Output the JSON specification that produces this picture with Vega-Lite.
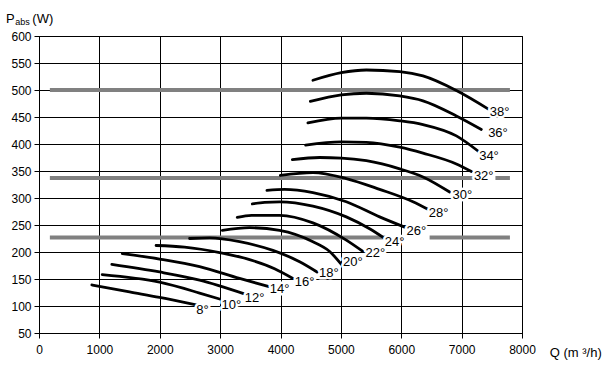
{
  "$schema": "https://vega.github.io/schema/vega-lite/v6.json",
  "width": 483,
  "height": 297,
  "autosize": "none",
  "padding": {"left": 39, "top": 36, "right": 88, "bottom": 32},
  "background": "white",
  "config": {
    "view": {"stroke": "black", "strokeWidth": 1},
    "font": "Liberation Sans, Arial, sans-serif",
    "axis": {
      "grid": true, "gridColor": "black", "gridOpacity": 1, "gridWidth": 1,
      "domainColor": "black", "tickColor": "black", "labelColor": "black",
      "labelFontSize": 12, "labelFont": "Liberation Sans, Arial, sans-serif",
      "tickSize": 5, "labelPadding": 3, "labelOverlap": false, "labelFlush": false, "labelBound": false
    },
    "axisQuantitative": {"labelOverlap": false},
    "axisY": {"labelOverlap": false}
  },
  "datasets": {
    "gray": [
      {"x": 180, "x2": 7800, "y": 500},
      {"x": 180, "x2": 7200, "y": 337},
      {"x": 7560, "x2": 7800, "y": 337},
      {"x": 180, "x2": 5740, "y": 227},
      {"x": 6470, "x2": 7800, "y": 227}
    ],
    "curves": [
      {"a": "38", "x": 4537, "y": 518}, {"a": "38", "x": 5007, "y": 532}, {"a": "38", "x": 5422, "y": 537}, {"a": "38", "x": 5974, "y": 534}, {"a": "38", "x": 6360, "y": 526}, {"a": "38", "x": 6913, "y": 499}, {"a": "38", "x": 7437, "y": 465},
      {"a": "36", "x": 4494, "y": 479}, {"a": "36", "x": 5007, "y": 491}, {"a": "36", "x": 5422, "y": 494}, {"a": "36", "x": 5974, "y": 489}, {"a": "36", "x": 6360, "y": 480}, {"a": "36", "x": 6913, "y": 452}, {"a": "36", "x": 7327, "y": 427},
      {"a": "34", "x": 4454, "y": 439}, {"a": "34", "x": 5007, "y": 448}, {"a": "34", "x": 5422, "y": 448}, {"a": "34", "x": 5974, "y": 443}, {"a": "34", "x": 6360, "y": 436}, {"a": "34", "x": 6913, "y": 415}, {"a": "34", "x": 7271, "y": 387},
      {"a": "32", "x": 4416, "y": 398}, {"a": "32", "x": 5007, "y": 404}, {"a": "32", "x": 5422, "y": 403}, {"a": "32", "x": 5974, "y": 394}, {"a": "32", "x": 6360, "y": 383}, {"a": "32", "x": 6913, "y": 363}, {"a": "32", "x": 7162, "y": 349},
      {"a": "30", "x": 4196, "y": 371}, {"a": "30", "x": 4648, "y": 375}, {"a": "30", "x": 5007, "y": 374}, {"a": "30", "x": 5422, "y": 369}, {"a": "30", "x": 5974, "y": 354}, {"a": "30", "x": 6360, "y": 339}, {"a": "30", "x": 6802, "y": 311},
      {"a": "28", "x": 3997, "y": 342}, {"a": "28", "x": 4537, "y": 347}, {"a": "28", "x": 5090, "y": 336}, {"a": "28", "x": 5642, "y": 316}, {"a": "28", "x": 6194, "y": 293}, {"a": "28", "x": 6442, "y": 279},
      {"a": "26", "x": 3775, "y": 314}, {"a": "26", "x": 4068, "y": 316}, {"a": "26", "x": 4537, "y": 310}, {"a": "26", "x": 5090, "y": 293}, {"a": "26", "x": 5642, "y": 265}, {"a": "26", "x": 6056, "y": 246},
      {"a": "24", "x": 3533, "y": 289}, {"a": "24", "x": 3737, "y": 292}, {"a": "24", "x": 3985, "y": 293}, {"a": "24", "x": 4537, "y": 285}, {"a": "24", "x": 5090, "y": 265}, {"a": "24", "x": 5476, "y": 243}, {"a": "24", "x": 5741, "y": 224},
      {"a": "22", "x": 3284, "y": 264}, {"a": "22", "x": 3521, "y": 268}, {"a": "22", "x": 3985, "y": 268}, {"a": "22", "x": 4537, "y": 254}, {"a": "22", "x": 5090, "y": 222}, {"a": "22", "x": 5365, "y": 201},
      {"a": "20", "x": 3036, "y": 240}, {"a": "20", "x": 3488, "y": 245}, {"a": "20", "x": 3985, "y": 240}, {"a": "20", "x": 4537, "y": 219}, {"a": "20", "x": 4814, "y": 201}, {"a": "20", "x": 5008, "y": 177},
      {"a": "18", "x": 2494, "y": 225}, {"a": "18", "x": 2826, "y": 226}, {"a": "18", "x": 3323, "y": 219}, {"a": "18", "x": 3874, "y": 203}, {"a": "18", "x": 4317, "y": 182}, {"a": "18", "x": 4606, "y": 163},
      {"a": "16", "x": 1939, "y": 212}, {"a": "16", "x": 2411, "y": 209}, {"a": "16", "x": 2991, "y": 199}, {"a": "16", "x": 3488, "y": 186}, {"a": "16", "x": 3902, "y": 169}, {"a": "16", "x": 4206, "y": 151},
      {"a": "14", "x": 1379, "y": 197}, {"a": "14", "x": 1997, "y": 187}, {"a": "14", "x": 2660, "y": 173}, {"a": "14", "x": 3322, "y": 151}, {"a": "14", "x": 3808, "y": 136},
      {"a": "12", "x": 1206, "y": 177}, {"a": "12", "x": 1997, "y": 163}, {"a": "12", "x": 2660, "y": 148}, {"a": "12", "x": 3389, "y": 123},
      {"a": "10", "x": 1047, "y": 158}, {"a": "10", "x": 1997, "y": 144}, {"a": "10", "x": 2660, "y": 124}, {"a": "10", "x": 2991, "y": 113},
      {"a": "8", "x": 875, "y": 139}, {"a": "8", "x": 1500, "y": 126}, {"a": "8", "x": 1997, "y": 116}, {"a": "8", "x": 2605, "y": 102}
    ],
    "labels": [
      {"t": "8°", "x": 2709, "y": 92},
      {"t": "10°", "x": 3185, "y": 102},
      {"t": "12°", "x": 3571, "y": 114},
      {"t": "14°", "x": 3985, "y": 132},
      {"t": "16°", "x": 4400, "y": 145},
      {"t": "18°", "x": 4802, "y": 161},
      {"t": "20°", "x": 5200, "y": 182},
      {"t": "22°", "x": 5571, "y": 198},
      {"t": "24°", "x": 5891, "y": 219},
      {"t": "26°", "x": 6250, "y": 239},
      {"t": "28°", "x": 6620, "y": 272},
      {"t": "30°", "x": 7012, "y": 305},
      {"t": "32°", "x": 7366, "y": 340},
      {"t": "34°", "x": 7453, "y": 378},
      {"t": "36°", "x": 7602, "y": 420},
      {"t": "38°", "x": 7630, "y": 460}
    ],
    "titles": [
      {"t": "P", "x": -547, "y": 624},
      {"t": "(W)", "x": -110, "y": 624},
      {"t": "Q  (m ³/h)", "x": 8460, "y": 6}
    ],
    "subs": [
      {"t": "abs", "x": -395, "y": 620}
    ]
  },
  "encoding": {
    "x": {"field": "x", "type": "quantitative", "scale": {"domain": [0, 8000], "nice": false},
          "axis": {"values": [0, 1000, 2000, 3000, 4000, 5000, 6000, 7000, 8000], "format": "d", "title": null, "labelPadding": 6, "labelOverlap": false}},
    "y": {"field": "y", "type": "quantitative", "scale": {"domain": [50, 600], "nice": false, "zero": false},
          "axis": {"values": [50, 100, 150, 200, 250, 300, 350, 400, 450, 500, 550, 600], "format": "d", "title": null, "labelOverlap": false}}
  },
  "layer": [
    {
      "data": {"name": "gray"},
      "mark": {"type": "rule", "color": "#808080", "strokeWidth": 4},
      "encoding": {"x2": {"field": "x2"}}
    },
    {
      "data": {"name": "curves"},
      "mark": {"type": "line", "color": "black", "strokeWidth": 2.8, "interpolate": "monotone", "strokeCap": "round"},
      "encoding": {"detail": {"field": "a"}}
    },
    {
      "data": {"name": "labels"},
      "mark": {"type": "text", "fontSize": 13, "fill": "white", "stroke": "white", "strokeWidth": 5, "strokeJoin": "round", "align": "center", "baseline": "middle"},
      "encoding": {"text": {"field": "t"}}
    },
    {
      "data": {"name": "labels"},
      "mark": {"type": "text", "fontSize": 13, "color": "black", "align": "center", "baseline": "middle"},
      "encoding": {"text": {"field": "t"}}
    },
    {
      "data": {"name": "titles"},
      "mark": {"type": "text", "fontSize": 13, "color": "black", "align": "left", "baseline": "alphabetic"},
      "encoding": {"text": {"field": "t"}}
    },
    {
      "data": {"name": "subs"},
      "mark": {"type": "text", "fontSize": 9, "color": "black", "align": "left", "baseline": "alphabetic"},
      "encoding": {"text": {"field": "t"}}
    }
  ]
}
